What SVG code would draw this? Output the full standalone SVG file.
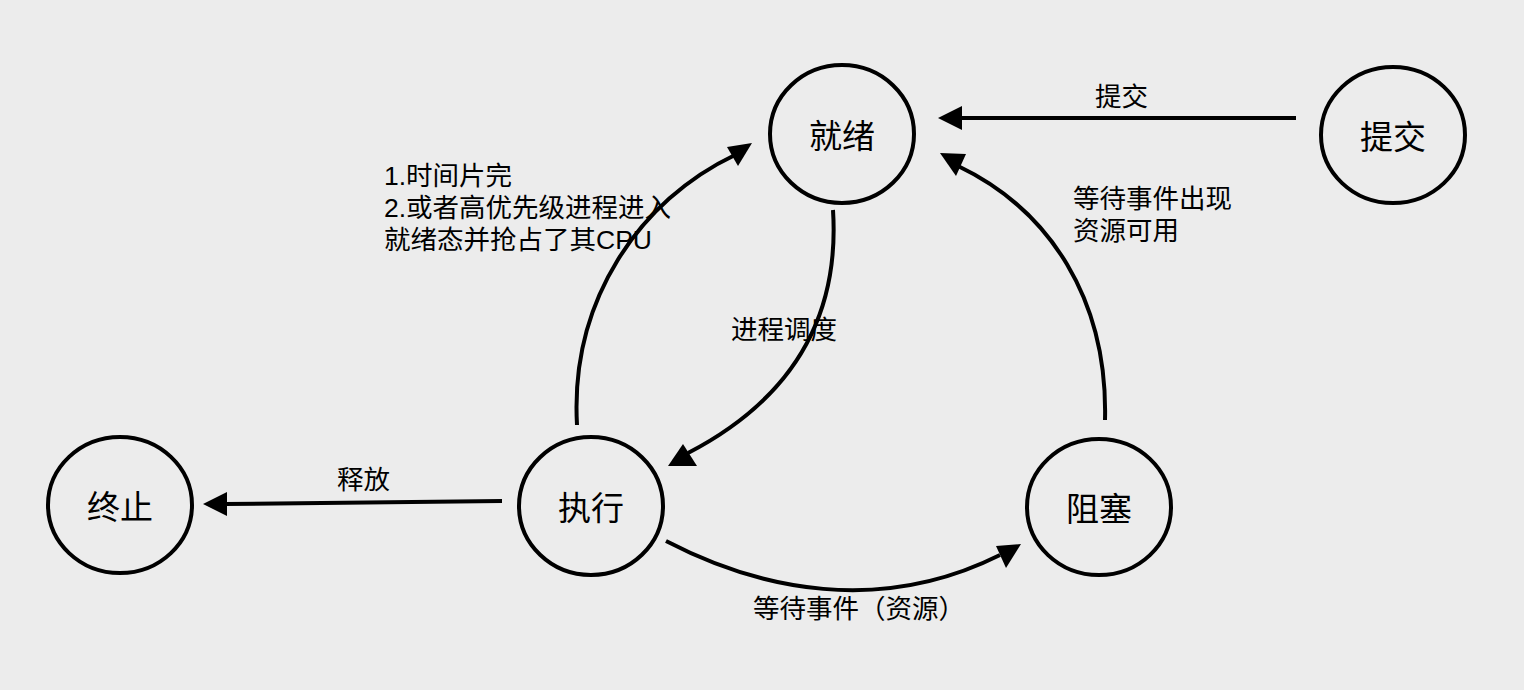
<svg xmlns="http://www.w3.org/2000/svg" width="1524" height="690" viewBox="0 0 1524 690">
<defs>
<style>
.node{fill:none;stroke:#000;stroke-width:4}
.nt{font-family:"Liberation Sans","Noto Sans CJK SC",sans-serif;font-size:33px;fill:#000;text-anchor:middle;dominant-baseline:central}
.lbl{font-family:"Liberation Sans","Noto Sans CJK SC",sans-serif;font-size:26.5px;fill:#000}
.edge{fill:none;stroke:#000;stroke-width:4}
</style>
</defs>
<rect width="1524" height="690" fill="#ececec"/>
<g id="ready"><ellipse class="node" cx="842" cy="134" rx="72" ry="69"/><text class="nt" x="842" y="136">就绪</text></g>
<g id="submit"><ellipse class="node" cx="1393" cy="135" rx="72" ry="68"/><text class="nt" x="1393" y="137">提交</text></g>
<g id="run"><ellipse class="node" cx="591" cy="506" rx="72" ry="69"/><text class="nt" x="591" y="508">执行</text></g>
<g id="term"><ellipse class="node" cx="120" cy="505" rx="72" ry="68"/><text class="nt" x="120" y="507">终止</text></g>
<g id="block"><ellipse class="node" cx="1099" cy="507" rx="72" ry="68"/><text class="nt" x="1099" y="509">阻塞</text></g>
<g id="connectors">
<line class="edge" x1="1296" y1="118" x2="960" y2="118"/>
<path d="M938,118 L962,106 L962,130 Z"/>
<path class="edge" d="M1105,420 C1108,300 1050,210 958,166"/>
<path d="M940,153 L966,154 L956,176 Z"/>
<path class="edge" d="M833,210 C840,320 790,400 688,453"/>
<path d="M668,466 L683,444 L697,466 Z"/>
<path class="edge" d="M577,425 C570,300 640,200 735,155"/>
<path d="M752,143 L738,166 L727,147 Z"/>
<line class="edge" x1="502" y1="501" x2="225" y2="504"/>
<path d="M203,504 L227,492 L227,516 Z"/>
<path class="edge" d="M666,541 C760,590 880,615 1000,555"/>
<path d="M1021,544 L1006,568 L996,546 Z"/>
</g>
<g id="labels">
<text class="lbl" x="1095" y="106">提交</text>
<text class="lbl" x="384" y="185">1.时间片完</text>
<text class="lbl" x="384" y="217">2.或者高优先级进程进入</text>
<text class="lbl" x="384" y="249">就绪态并抢占了其CPU</text>
<text class="lbl" x="1073" y="208">等待事件出现</text>
<text class="lbl" x="1073" y="240">资源可用</text>
<text class="lbl" x="731" y="339">进程调度</text>
<text class="lbl" x="337" y="489">释放</text>
<text class="lbl" x="753" y="618">等待事件（资源）</text>
</g>
</svg>
